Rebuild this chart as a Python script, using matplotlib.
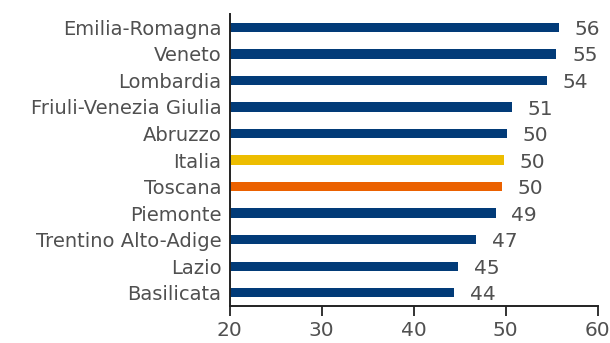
import matplotlib.pyplot as plt

# regioni e valori dell'indice
regioni = ['Emilia-Romagna', 'Veneto', 'Lombardia', 'Friuli-Venezia Giulia', 'Abruzzo',
           'Italia', 'Toscana', 'Piemonte', 'Trentino Alto-Adige', 'Lazio', 'Basilicata']
valori = [55.8, 55.5, 54.5, 50.7, 50.1, 49.8, 49.6, 48.9, 46.8, 44.8, 44.4]
etichette = ['56', '55', '54', '51', '50', '50', '50', '49', '47', '45', '44']

blu = '#023B78'
colori = [blu] * len(regioni)
colori[regioni.index('Italia')] = '#EDBD00'
colori[regioni.index('Toscana')] = '#EB6100'

grigio = '#505050'
plt.rcParams['font.family'] = ['DejaVu Sans']

fig = plt.figure(figsize=(6.1, 3.43), dpi=100)
ax = fig.add_axes([0.3766, 0.108, 0.6034, 0.851])

pos = list(range(len(regioni)))
ax.barh(pos, [v - 20 for v in valori], left=20, height=0.35, color=colori)

for p, v, t in zip(pos, valori, etichette):
    ax.text(v + 1.7, p + 0.08, t, va='center', ha='left', fontsize=14.5, color=grigio)

ax.set_yticks(pos)
ax.set_yticklabels(regioni, fontsize=14, color=grigio)
ax.set_ylim(10.5, -0.5)
ax.set_xlim(20, 60)
ax.set_xticks([20, 30, 40, 50, 60])
ax.tick_params(axis='y', length=0, pad=6)
ax.tick_params(axis='x', length=7, width=1.3, labelsize=14.5, labelcolor=grigio, colors='#222222')

for s in ['top', 'right']:
    ax.spines[s].set_visible(False)
ax.spines['left'].set_linewidth(1.4)
ax.spines['bottom'].set_linewidth(1.4)
ax.spines['left'].set_color('#222222')
ax.spines['bottom'].set_color('#222222')

plt.savefig('out.png', dpi=100)
